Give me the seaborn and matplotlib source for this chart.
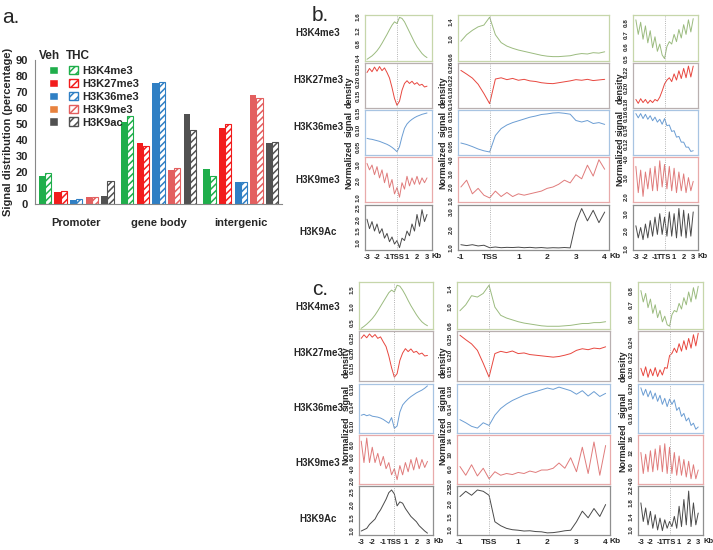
import numpy as np
import matplotlib
matplotlib.use('Agg')
import matplotlib.pyplot as plt
from matplotlib.patches import Patch
import seaborn as sns

sns.set_style('white')
plt.rcParams['font.family'] = ['Liberation Sans', 'DejaVu Sans']
plt.rcParams['hatch.linewidth'] = 1.1

# ---------------- panel a : bar data ----------------
regions = ['Promoter', 'gene body', 'intergenic']
marks = ['H3K4me3', 'H3K27me3', 'H3K36me3', 'H3K9me3', 'H3K9ac']

veh_h3k4me3 = [17.5, 51, 22]
thc_h3k4me3 = [19.5, 55, 17.5]
veh_h3k27me3 = [7.5, 38, 47.5]
thc_h3k27me3 = [8, 36.5, 50]
veh_h3k36me3 = [2.5, 75.5, 13.5]
thc_h3k36me3 = [3, 76, 13.5]
veh_h3k9me3 = [4.5, 21, 68]
thc_h3k9me3 = [4.5, 22.5, 66]
veh_h3k9ac = [5, 56, 38]
thc_h3k9ac = [14.5, 46.5, 39]

bar_colors = ['#1fae4b', '#f21c1c', '#2f7fc4', '#e35f5f', '#515151']
legend_veh_colors = ['#1fae4b', '#f21c1c', '#2f7fc4', '#e8823e', '#515151']

# ---------------- panels b / c : profile data ----------------
x_side = np.linspace(-3, 3, 25)     # TSS / TTS +-3 Kb
x_body = np.linspace(-1, 4, 26)     # -1 Kb .. 4 Kb across gene body

row_names = ['H3K4me3', 'H3K27me3', 'H3K36me3', 'H3K9me3', 'H3K9Ac']

# b, TSS +-3kb
b_tss_k4 = [0.35, 0.40, 0.45, 0.52, 0.60, 0.70, 0.82, 0.95, 1.08, 1.22, 1.35, 1.45, 1.40,
            1.58, 1.55, 1.45, 1.30, 1.15, 1.00, 0.85, 0.72, 0.62, 0.52, 0.45, 0.40]
b_tss_k27 = [0.235, 0.250, 0.238, 0.255, 0.240, 0.257, 0.242, 0.252, 0.235, 0.215, 0.180, 0.140, 0.115,
             0.130, 0.170, 0.195, 0.205, 0.195, 0.203, 0.192, 0.198, 0.188, 0.192, 0.182, 0.185]
b_tss_k36 = [0.075, 0.073, 0.072, 0.070, 0.068, 0.066, 0.063, 0.060, 0.057, 0.053, 0.048, 0.042, 0.035,
             0.050, 0.080, 0.105, 0.118, 0.126, 0.132, 0.137, 0.141, 0.144, 0.147, 0.149, 0.151]
b_tss_k9me3 = [3.1, 2.7, 3.0, 2.4, 2.9, 2.2, 2.7, 1.9, 2.5, 1.6, 2.1, 1.2, 1.6,
               1.0, 1.9, 1.5, 2.3, 1.7, 2.2, 1.8, 2.3, 1.8, 2.2, 1.9, 2.2]
b_tss_k9ac = [2.0, 1.6, 1.9, 1.5, 1.8, 1.4, 1.6, 1.2, 1.4, 1.05, 1.25, 0.95, 1.1,
              0.8, 1.2, 1.1, 1.5, 1.3, 1.8, 1.5, 2.2, 1.7, 2.4, 1.9, 2.2]

# b, gene body
b_body_k4 = [0.95, 1.10, 1.20, 1.28, 1.32, 1.50, 1.10, 0.92, 0.84, 0.79, 0.75, 0.72, 0.69,
             0.66, 0.63, 0.61, 0.60, 0.60, 0.61, 0.62, 0.65, 0.67, 0.66, 0.69, 0.68, 0.71]
b_body_k27 = [0.250, 0.238, 0.225, 0.205, 0.175, 0.142, 0.222, 0.226, 0.220, 0.224, 0.218, 0.221, 0.216,
              0.214, 0.210, 0.208, 0.207, 0.210, 0.213, 0.216, 0.220, 0.218, 0.221, 0.217, 0.219, 0.221]
b_body_k36 = [0.060, 0.055, 0.048, 0.040, 0.034, 0.030, 0.085, 0.108, 0.120, 0.128, 0.134, 0.140, 0.146,
              0.150, 0.155, 0.157, 0.160, 0.161, 0.159, 0.156, 0.135, 0.130, 0.135, 0.125, 0.128, 0.122]
b_body_k9me3 = [2.0, 2.5, 1.5, 1.9, 1.4, 1.2, 1.7, 1.3, 1.6, 1.3, 1.5, 1.4, 1.5,
                1.6, 1.7, 1.9, 2.0, 2.2, 2.5, 2.3, 2.9, 2.6, 3.6, 2.8, 4.0, 3.3]
b_body_k9ac = [1.15, 1.10, 1.15, 1.08, 1.12, 0.98, 1.02, 0.98, 1.00, 0.99, 1.01, 0.98, 1.00,
               0.97, 0.99, 0.96, 0.98, 0.97, 0.99, 0.97, 2.4, 3.2, 2.5, 3.1, 2.4, 3.0]

# b, TTS +-3kb
b_tts_k4 = [0.82, 0.70, 0.80, 0.66, 0.77, 0.63, 0.73, 0.59, 0.68, 0.56, 0.62, 0.53, 0.50,
            0.60, 0.64, 0.62, 0.70, 0.64, 0.74, 0.67, 0.78, 0.70, 0.82, 0.72, 0.83]
b_tts_k27 = [0.185, 0.180, 0.186, 0.181, 0.185, 0.180, 0.184, 0.181, 0.185, 0.183, 0.188, 0.196, 0.205,
             0.210, 0.213, 0.208, 0.218, 0.210, 0.222, 0.212, 0.225, 0.213, 0.228, 0.214, 0.228]
b_tts_k36 = [0.163, 0.157, 0.163, 0.156, 0.162, 0.155, 0.160, 0.153, 0.158, 0.151, 0.155, 0.148, 0.156,
             0.146, 0.147, 0.138, 0.139, 0.130, 0.131, 0.123, 0.123, 0.116, 0.116, 0.110, 0.111]
b_tts_k9me3 = [3.6, 2.2, 3.4, 2.0, 3.3, 2.4, 3.5, 2.3, 3.6, 2.3, 3.9, 2.5, 3.7,
               2.4, 3.6, 2.3, 3.5, 2.2, 3.3, 2.3, 3.2, 2.2, 3.0, 2.3, 2.8]
b_tts_k9ac = [2.3, 1.6, 2.2, 1.5, 2.4, 1.6, 2.6, 1.7, 2.8, 1.8, 3.0, 1.8, 2.8,
              1.7, 3.1, 1.7, 3.0, 1.6, 3.3, 1.7, 3.2, 1.6, 3.0, 1.7, 3.1]

# c, TSS +-3kb
c_tss_k4 = [0.32, 0.38, 0.45, 0.53, 0.62, 0.73, 0.86, 1.00, 1.14, 1.28, 1.42, 1.50, 1.44,
            1.65, 1.62, 1.50, 1.35, 1.18, 1.02, 0.88, 0.74, 0.62, 0.52, 0.45, 0.40]
c_tss_k27 = [0.250, 0.262, 0.252, 0.265, 0.254, 0.263, 0.250, 0.255, 0.238, 0.222, 0.190, 0.150, 0.118,
             0.130, 0.175, 0.200, 0.215, 0.205, 0.214, 0.202, 0.206, 0.196, 0.200, 0.190, 0.192]
c_tss_k36 = [0.123, 0.125, 0.122, 0.124, 0.121, 0.120, 0.119, 0.117, 0.114, 0.110, 0.106, 0.118, 0.095,
             0.100, 0.130, 0.145, 0.152, 0.158, 0.163, 0.167, 0.171, 0.174, 0.177, 0.181, 0.186]
c_tss_k9me3 = [8.5, 5.0, 9.0, 5.0, 7.5, 5.0, 6.5, 4.5, 6.0, 4.0, 5.0, 3.0, 4.0,
               2.2, 4.5, 3.0, 5.0, 3.5, 5.5, 3.8, 5.8, 4.0, 5.5, 4.2, 5.2]
c_tss_k9ac = [1.00, 1.05, 1.10, 1.25, 1.35, 1.45, 1.65, 1.80, 2.00, 2.20, 2.45, 2.55, 2.40,
              1.95, 2.10, 2.05, 1.85, 1.70, 1.55, 1.45, 1.35, 1.20, 1.10, 1.00, 0.92]

# c, gene body
c_body_k4 = [0.92, 1.05, 1.25, 1.22, 1.30, 1.48, 1.00, 0.82, 0.76, 0.72, 0.68, 0.65, 0.63,
             0.61, 0.59, 0.58, 0.58, 0.58, 0.59, 0.60, 0.62, 0.64, 0.64, 0.66, 0.66, 0.68]
c_body_k27 = [0.262, 0.248, 0.235, 0.215, 0.175, 0.132, 0.205, 0.212, 0.208, 0.213, 0.205, 0.207, 0.202,
              0.200, 0.198, 0.196, 0.194, 0.196, 0.200, 0.205, 0.215, 0.220, 0.217, 0.222, 0.220, 0.226]
c_body_k36 = [0.115, 0.108, 0.100, 0.096, 0.108, 0.102, 0.125, 0.140, 0.150, 0.158, 0.164, 0.170, 0.174,
              0.178, 0.182, 0.186, 0.183, 0.188, 0.184, 0.180, 0.172, 0.180, 0.168, 0.178, 0.167, 0.174]
c_body_k9me3 = [6.5, 4.0, 7.0, 3.8, 6.0, 3.0, 5.0, 4.0, 4.5, 4.2, 4.8, 4.5, 5.2,
                4.8, 5.5, 5.5, 6.0, 7.5, 6.0, 9.0, 5.0, 12.0, 4.5, 13.5, 4.0, 12.5]
c_body_k9ac = [2.25, 2.45, 2.30, 2.50, 2.45, 2.30, 1.30, 1.15, 1.05, 1.00, 0.98, 0.95, 0.96,
               0.93, 0.92, 0.88, 0.89, 0.92, 0.96, 0.98, 1.30, 1.70, 1.45, 1.80, 1.50, 1.95]

# c, TTS +-3kb
c_tts_k4 = [0.80, 0.72, 0.78, 0.68, 0.74, 0.64, 0.70, 0.61, 0.66, 0.58, 0.62, 0.56, 0.55,
            0.63, 0.66, 0.65, 0.71, 0.67, 0.75, 0.70, 0.79, 0.72, 0.82, 0.74, 0.83]
c_tts_k27 = [0.205, 0.195, 0.207, 0.193, 0.204, 0.195, 0.206, 0.194, 0.203, 0.196, 0.206, 0.205, 0.222,
             0.225, 0.232, 0.226, 0.238, 0.228, 0.242, 0.230, 0.245, 0.232, 0.250, 0.235, 0.252]
c_tts_k36 = [0.200, 0.190, 0.198, 0.188, 0.196, 0.185, 0.193, 0.182, 0.190, 0.178, 0.186, 0.175, 0.185,
             0.178, 0.184, 0.170, 0.174, 0.162, 0.166, 0.156, 0.160, 0.150, 0.153, 0.145, 0.148]
c_tts_k9me3 = [12.0, 6.0, 11.5, 6.5, 12.5, 6.5, 13.0, 7.0, 14.0, 6.5, 14.5, 6.0, 13.5,
               6.0, 12.0, 5.5, 11.0, 5.5, 10.0, 5.0, 9.5, 4.5, 8.5, 4.5, 7.0]
c_tts_k9ac = [1.80, 1.25, 1.65, 1.15, 1.55, 1.05, 1.45, 1.00, 1.35, 0.98, 1.30, 1.05, 1.25,
              1.10, 1.40, 1.05, 1.70, 1.10, 1.90, 1.15, 2.15, 1.10, 1.80, 1.15, 1.50]

# y-axis ticks per panel (col: tss, body, tts)
b_tss_ticks = [[0.4, 0.8, 1.2, 1.6], [0.15, 0.20, 0.25], [0.05, 0.10, 0.15], [1.0, 2.0, 3.0], [1.0, 1.5, 2.0, 2.5]]
b_body_ticks = [[0.6, 1.0, 1.4], [0.14, 0.18, 0.22, 0.26], [0.05, 0.10, 0.15], [1.0, 2.0, 3.0, 4.0], [1.0, 2.0, 3.0]]
b_tts_ticks = [[0.5, 0.6, 0.7, 0.8], [0.18, 0.20, 0.22], [0.12, 0.14, 0.16], [2.0, 3.0, 4.0], [1.0, 2.0, 3.0]]
c_tss_ticks = [[0.5, 1.0, 1.5], [0.15, 0.20, 0.25], [0.10, 0.14, 0.18], [2.0, 4.0, 6.0, 8.0], [1.0, 1.5, 2.0, 2.5]]
c_body_ticks = [[0.6, 1.0, 1.4], [0.15, 0.20, 0.25], [0.10, 0.14, 0.18], [2.0, 6.0, 10, 14], [1.0, 1.5, 2.0, 2.5]]
c_tts_ticks = [[0.6, 0.7, 0.8], [0.20, 0.22, 0.24], [0.16, 0.18, 0.20], [4.0, 8.0, 12, 16], [1.0, 1.4, 1.8, 2.2]]

b_tss_ylim = [(0.3, 1.65), (0.105, 0.27), (0.025, 0.16), (0.7, 3.5), (0.7, 2.6)]
b_body_ylim = [(0.5, 1.55), (0.128, 0.274), (0.02, 0.17), (0.9, 4.2), (0.85, 3.4)]
b_tts_ylim = [(0.48, 0.86), (0.174, 0.232), (0.105, 0.168), (1.7, 4.1), (0.9, 3.5)]
c_tss_ylim = [(0.3, 1.75), (0.105, 0.275), (0.085, 0.19), (1.5, 9.5), (0.85, 2.7)]
c_body_ylim = [(0.52, 1.55), (0.12, 0.275), (0.085, 0.195), (1.5, 15.5), (0.8, 2.65)]
c_tts_ylim = [(0.53, 0.86), (0.188, 0.255), (0.14, 0.205), (3.0, 17), (0.85, 2.3)]

line_colors = ['#9bbb7f', '#e8473f', '#6b9dd3', '#e07b7b', '#4a4a4a']
frame_colors = ['#c6d6aa', '#b9b0b0', '#a8c4e2', '#e8aaaa', '#8f8f8f']

W, H = 713, 550
fig = plt.figure(figsize=(W / 100, H / 100), dpi=100)


def pos(l, r, t, b):
    return [l / W, 1 - b / H, (r - l) / W, (b - t) / H]


# ---------------- panel a ----------------
ax = fig.add_axes(pos(35, 282, 60, 204))
veh_all = [veh_h3k4me3, veh_h3k27me3, veh_h3k36me3, veh_h3k9me3, veh_h3k9ac]
thc_all = [thc_h3k4me3, thc_h3k27me3, thc_h3k36me3, thc_h3k9me3, thc_h3k9ac]
xc = np.arange(len(regions))
bw = 0.075
for k in range(len(marks)):
    off = (k - 2) * 0.19
    ax.bar(xc + off - bw / 2, veh_all[k], width=bw, color=bar_colors[k], lw=0)
    ax.bar(xc + off + bw / 2, thc_all[k], width=bw, facecolor='white',
           edgecolor=bar_colors[k], hatch='/////', lw=0.8)
ax.set_xlim(-0.5, 2.5)
ax.set_ylim(0, 90)
ax.set_yticks(range(0, 91, 10))
ax.set_yticklabels([str(v) for v in range(0, 91, 10)], fontsize=8, fontweight='bold')
ax.set_xticks(xc)
ax.set_xticklabels(regions, fontsize=8, fontweight='bold')
ax.tick_params(axis='x', length=0, pad=10)
ax.set_xticks([-0.5, 0.5, 1.5, 2.5], minor=True)
ax.tick_params(axis='x', which='minor', length=4, color='#888888')
ax.tick_params(axis='y', length=3, color='#888888', pad=2)
for s in ['top', 'right']:
    ax.spines[s].set_visible(False)
for s in ['left', 'bottom']:
    ax.spines[s].set_color('#888888')
    ax.spines[s].set_linewidth(0.8)
ax.set_ylabel('Signal distribution (percentage)', fontsize=8, fontweight='bold', labelpad=2)

veh_handles = [Patch(facecolor=c, edgecolor='white') for c in legend_veh_colors]
thc_handles = [Patch(facecolor='white', edgecolor=c, hatch='////') for c in bar_colors]
leg = ax.legend(veh_handles + thc_handles, [''] * 5 + marks, ncol=2, frameon=False,
                loc='upper left', bbox_to_anchor=(0.04, 0.99), fontsize=8,
                handlelength=0.8, handleheight=0.8, labelspacing=0.25,
                columnspacing=0.5, handletextpad=0.45, borderaxespad=0)
for t in leg.get_texts():
    t.set_fontweight('bold')
ax.text(0.06, 1.01, 'Veh', transform=ax.transAxes, fontsize=8.5, fontweight='bold', ha='center')
ax.text(0.175, 1.01, 'THC', transform=ax.transAxes, fontsize=8.5, fontweight='bold', ha='center')
fig.text(2 / W, 1 - 8 / H, 'a.', fontsize=15, va='top')

# ---------------- panels b and c ----------------
panels = {
    'b': {
        'rows': [(15, 61), (63, 108), (110, 155), (157, 202), (205, 250)],
        'cols': [(365, 432), (458, 609), (633, 698)],
        'data': [[b_tss_k4, b_tss_k27, b_tss_k36, b_tss_k9me3, b_tss_k9ac],
                 [b_body_k4, b_body_k27, b_body_k36, b_body_k9me3, b_body_k9ac],
                 [b_tts_k4, b_tts_k27, b_tts_k36, b_tts_k9me3, b_tts_k9ac]],
        'ticks': [b_tss_ticks, b_body_ticks, b_tts_ticks],
        'ylim': [b_tss_ylim, b_body_ylim, b_tts_ylim],
        'label_y': [33, 80, 127, 180, 232],
        'letter_y': 6,
        'yl': [[92, 124, 165], [92, 124, 165], [88, 123, 162]],
    },
    'c': {
        'rows': [(282, 329), (331, 381), (384, 433), (435, 484), (486, 535)],
        'cols': [(359, 433), (457, 610), (638, 703)],
        'data': [[c_tss_k4, c_tss_k27, c_tss_k36, c_tss_k9me3, c_tss_k9ac],
                 [c_body_k4, c_body_k27, c_body_k36, c_body_k9me3, c_body_k9ac],
                 [c_tts_k4, c_tts_k27, c_tts_k36, c_tts_k9me3, c_tts_k9ac]],
        'ticks': [c_tss_ticks, c_body_ticks, c_tts_ticks],
        'ylim': [c_tss_ylim, c_body_ylim, c_tts_ylim],
        'label_y': [307, 353, 408, 463, 519],
        'letter_y': 280,
        'yl': [[362, 398, 441], [362, 398, 441], [366, 405, 448]],
    },
}

col_x = [x_side, x_body, x_side]
col_xlim = [(-3.2, 3.5), (-1.1, 4.15), (-3.3, 3.5)]
col_xticks = [[-3, -2, -1, 0, 1, 2, 3], [-1, 0, 1, 2, 3, 4], [-3, -2, -1, 0, 1, 2, 3]]
col_xlabels = [['-3', '-2', '-1', 'TSS', '1', '2', '3'],
               ['-1', 'TSS', '1', '2', '3', '4'],
               ['-3', '-2', '-1', 'TTS', '1', '2', '3']]
col_xfont = [5.5, 6, 5.5]
ylab_x = {'b': [349, 443, 620], 'c': [346, 443, 623]}

for key, p in panels.items():
    fig.text(312 / W, 1 - p['letter_y'] / H, key + '.', fontsize=15, va='top')
    for r, name in enumerate(row_names):
        fig.text(318 / W, 1 - p['label_y'][r] / H, name, fontsize=7, fontweight='bold',
                 ha='center', va='center')
    for c in range(3):
        l, rgt = p['cols'][c]
        for r in range(5):
            t, b = p['rows'][r]
            a = fig.add_axes(pos(l, rgt, t, b))
            sns.lineplot(x=col_x[c], y=p['data'][c][r], ax=a, color=line_colors[r], lw=0.7)
            a.axvline(0, color='#9a9a9a', ls=':', lw=0.6)
            a.set_xlim(*col_xlim[c])
            a.set_ylim(*p['ylim'][c][r])
            ticks = p['ticks'][c][r]
            a.set_yticks(ticks)
            a.set_yticklabels([('%.2f' % v if v < 0.3 and r in (1, 2) else
                                ('%g' % v if v >= 10 else '%.1f' % v)) for v in ticks],
                              rotation=90, va='center', fontsize=4.5, fontweight='bold')
            a.tick_params(axis='y', length=2, width=0.5, pad=1, color='#666666')
            for s in a.spines.values():
                s.set_color(frame_colors[r])
                s.set_linewidth(0.9)
            a.set_xlabel('')
            a.set_ylabel('')
            if r == 4:
                a.set_xticks(col_xticks[c])
                a.set_xticklabels(col_xlabels[c], fontsize=col_xfont[c], fontweight='bold')
                a.tick_params(axis='x', length=1.5, width=0.5, pad=1.5, color='#666666')
                a.text(1.0, -0.06, 'Kb', transform=a.transAxes, fontsize=col_xfont[c],
                       fontweight='bold', ha='left', va='top')
            else:
                a.set_xticks([])
        for txt, yy in zip(['density', 'signal', 'Normalized'], p['yl'][c]):
            fig.text(ylab_x[key][c] / W, 1 - yy / H, txt, rotation=90, fontsize=6.5,
                     fontweight='bold', ha='center', va='center')

fig.savefig('out.png', dpi=100, facecolor='white')
